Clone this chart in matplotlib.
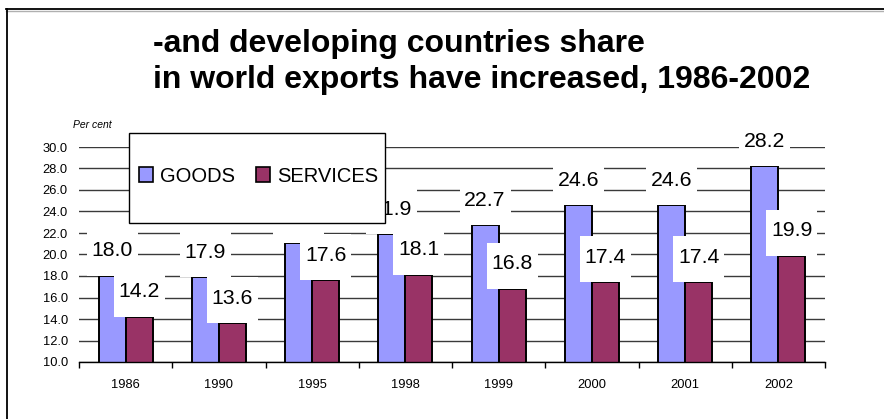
import matplotlib
matplotlib.use("Agg")
import matplotlib.pyplot as plt
from matplotlib.patches import Rectangle, Patch
from matplotlib.lines import Line2D
import numpy as np

plt.rcParams['font.family'] = ['Liberation Sans', 'DejaVu Sans']

years = ['1986', '1990', '1995', '1998', '1999', '2000', '2001', '2002']
goods = [18.0, 17.9, 21.1, 21.9, 22.7, 24.6, 24.6, 28.2]
services = [14.2, 13.6, 17.6, 18.1, 16.8, 17.4, 17.4, 19.9]
yticks = [10, 12, 14, 16, 18, 20, 22, 24, 26, 28, 30]
title_lines = ['-and developing countries share',
               'in world exports have increased, 1986-2002']

GOODS_COLOR = '#9999FF'
SERV_COLOR = '#993366'

W, H = 884, 419
fig = plt.figure(figsize=(W / 100, H / 100), dpi=100)
fig.patch.set_facecolor('white')

# plot area in pixel units
x0, x1, ytop, ybot = 79, 825, 147, 362
ax = fig.add_axes([x0 / W, 1 - ybot / H, (x1 - x0) / W, (ybot - ytop) / H])

x = np.arange(len(years))
bw = 0.29
ax.bar(x - bw / 2, goods, bw, color=GOODS_COLOR, edgecolor='black',
       linewidth=1.4, zorder=2)
ax.bar(x + bw / 2, services, bw, color=SERV_COLOR, edgecolor='black',
       linewidth=1.4, zorder=2)

ax.set_xlim(-0.5, len(years) - 0.5)
ax.set_ylim(10, 30)
ax.set_yticks(yticks)
ax.set_yticklabels([f'{v:.1f}' for v in yticks], fontsize=9.3)
ax.tick_params(axis='y', length=0, pad=8)
ax.yaxis.grid(True, color='#3a3a3a', linewidth=1.0)
ax.set_axisbelow(True)

ax.set_xticks(x)
ax.set_xticklabels(years, fontsize=9.3)
ax.set_xticks(np.arange(len(years) + 1) - 0.5, minor=True)
ax.tick_params(axis='x', which='major', length=0, pad=12)
ax.tick_params(axis='x', which='minor', length=4, width=1.0, color='black')

for s in ['left', 'right', 'top']:
    ax.spines[s].set_visible(False)
ax.spines['bottom'].set_color('black')
ax.spines['bottom'].set_linewidth(1.0)

# value labels on white boxes sitting on the bar tops
px_per_unit = (ybot - ytop) / 20.0
box_w = 51 / ((x1 - x0) / len(years))
box_h = 46 / px_per_unit
base_off = 19.5 / px_per_unit
for xs, vals in ((x - bw / 2, goods), (x + bw / 2, services)):
    for xc, v in zip(xs, vals):
        ax.add_patch(Rectangle((xc - box_w / 2, v), box_w, box_h,
                               facecolor='white', edgecolor='none',
                               zorder=3, clip_on=False))
        ax.text(xc, v + base_off, f'{v:.1f}', ha='center', va='baseline',
                fontsize=15.3, zorder=4, clip_on=False)

# legend with its own framed box
lx0, lx1, ly0, ly1 = 129, 385, 133, 223
ax.add_patch(Rectangle((lx0 / W, 1 - ly1 / H), (lx1 - lx0) / W, (ly1 - ly0) / H,
                       transform=fig.transFigure, facecolor='white',
                       edgecolor='black', linewidth=1.0, zorder=5,
                       clip_on=False))
handles = [Patch(facecolor=GOODS_COLOR, edgecolor='black', linewidth=1.2),
           Patch(facecolor=SERV_COLOR, edgecolor='black', linewidth=1.2)]
leg = ax.legend(handles, ['GOODS', 'SERVICES'], ncol=2, frameon=False,
                fontsize=14.5, handlelength=0.7, handleheight=0.7,
                handletextpad=0.35, columnspacing=1.0, borderpad=0.0,
                loc='center', bbox_to_anchor=(258.5 / W, 1 - 176 / H),
                bbox_transform=fig.transFigure)
leg.set_zorder(6)

ax.text(92 / W, 1 - 125 / H, 'Per cent', transform=fig.transFigure,
        ha='center', va='center', fontsize=7.5, style='italic')

# title
fig.text(153 / W, 1 - 52 / H, title_lines[0], ha='left', va='baseline',
         fontsize=23, fontweight='bold')
fig.text(153 / W, 1 - 88 / H, title_lines[1], ha='left', va='baseline',
         fontsize=23, fontweight='bold')

# outer frame lines (top and left)
fig.add_artist(Line2D([6 / W, 1], [1 - 10.8 / H] * 2, color='#b0b0b0',
                      linewidth=1.0, transform=fig.transFigure))
fig.add_artist(Line2D([6 / W, 1], [1 - 9.5 / H] * 2, color='black',
                      linewidth=1.3, transform=fig.transFigure))
fig.add_artist(Line2D([7 / W] * 2, [0, 1 - 9.5 / H], color='black',
                      linewidth=1.3, transform=fig.transFigure))

fig.savefig('out.png', dpi=100)
